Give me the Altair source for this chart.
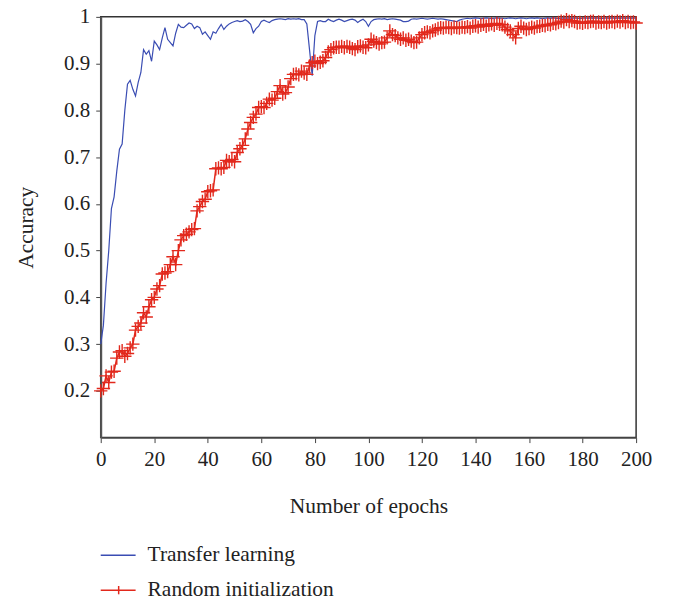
import altair as alt
import pandas as pd

series_names = ["Transfer learning", "Random initialization"]
series_colors = ["#3a4db3", "#e2281c"]

epochs = list(range(201))

transfer = [
    0.300, 0.340, 0.430, 0.500, 0.590, 0.615, 0.670, 0.717, 0.728, 0.800,
    0.856, 0.864, 0.845, 0.831, 0.860, 0.881, 0.930, 0.920, 0.928, 0.905,
    0.948, 0.940, 0.930, 0.955, 0.977, 0.952, 0.945, 0.938, 0.965, 0.984,
    0.978, 0.977, 0.982, 0.987, 0.985, 0.975, 0.980, 0.977, 0.963, 0.968,
    0.960, 0.952, 0.968, 0.965, 0.975, 0.984, 0.973, 0.980, 0.985, 0.988,
    0.990, 0.992, 0.990, 0.991, 0.994, 0.990, 0.984, 0.966, 0.975, 0.980,
    0.990, 0.993, 0.990, 0.988, 0.992, 0.994, 0.995, 0.996, 0.995, 0.994,
    0.996, 0.995, 0.996, 0.995, 0.996, 0.994, 0.994, 0.985, 0.930, 0.874,
    0.960, 0.990, 0.992, 0.990, 0.990, 0.995, 0.992, 0.990, 0.993, 0.995,
    0.993, 0.990, 0.992, 0.994, 0.995, 0.993, 0.988, 0.992, 0.995, 0.990,
    0.980, 0.990, 0.994, 0.995, 0.996, 0.995, 0.996, 0.994, 0.995, 0.996,
    0.995, 0.994, 0.993, 0.990, 0.990, 0.991, 0.995, 0.996, 0.995, 0.996,
    0.997, 0.996, 0.995, 0.996, 0.997, 0.996, 0.995, 0.996, 0.995, 0.994,
    0.993, 0.992, 0.991, 0.990, 0.993, 0.995, 0.996, 0.997, 0.996, 0.997,
    0.998, 0.997, 0.996, 0.997, 0.998, 0.997, 0.996, 0.997, 0.998, 0.997,
    0.997, 0.996, 0.997, 0.998, 0.997, 0.996, 0.997, 0.998, 0.997, 0.996,
    0.997, 0.998, 0.997, 0.998, 0.997, 0.996, 0.997, 0.998, 0.997, 0.998,
    0.997, 0.996, 0.997, 0.998, 0.997, 0.998, 0.997, 0.998, 0.997, 0.996,
    0.997, 0.998, 0.997, 0.998, 0.997, 0.998, 0.997, 0.996, 0.997, 0.998,
    0.997, 0.998, 0.997, 0.998, 0.997, 0.998, 0.997, 0.998, 0.997, 0.998,
    0.997,
]

random_init = [
    0.200, 0.205, 0.232, 0.218, 0.240, 0.242, 0.270, 0.283, 0.286, 0.274,
    0.280, 0.292, 0.300, 0.330, 0.338, 0.345, 0.367, 0.358, 0.380, 0.395,
    0.400, 0.418, 0.425, 0.450, 0.452, 0.455, 0.470, 0.487, 0.470, 0.500,
    0.523, 0.532, 0.535, 0.540, 0.545, 0.547, 0.585, 0.594, 0.605, 0.610,
    0.626, 0.628, 0.630, 0.675, 0.677, 0.675, 0.678, 0.693, 0.690, 0.695,
    0.690, 0.710, 0.718, 0.725, 0.739, 0.760, 0.774, 0.785, 0.792, 0.806,
    0.808, 0.806, 0.815, 0.824, 0.822, 0.826, 0.840, 0.853, 0.835, 0.838,
    0.850, 0.868, 0.877, 0.878, 0.876, 0.884, 0.880, 0.877, 0.895, 0.902,
    0.905, 0.900, 0.903, 0.906, 0.913, 0.925, 0.930, 0.934, 0.935, 0.935,
    0.937, 0.934, 0.937, 0.935, 0.932, 0.930, 0.936, 0.938, 0.935, 0.934,
    0.940, 0.952, 0.948, 0.945, 0.942, 0.945, 0.946, 0.955, 0.970, 0.962,
    0.960, 0.955, 0.952, 0.955, 0.950, 0.952, 0.948, 0.945, 0.946, 0.955,
    0.962, 0.966, 0.968, 0.966, 0.970, 0.972, 0.975, 0.977, 0.976, 0.978,
    0.977, 0.975, 0.978, 0.977, 0.976, 0.978, 0.977, 0.979, 0.976, 0.980,
    0.981, 0.978, 0.982, 0.984, 0.980, 0.983, 0.985, 0.982, 0.986, 0.984,
    0.983, 0.978, 0.973, 0.970, 0.962, 0.955, 0.975, 0.980, 0.976, 0.973,
    0.975, 0.978, 0.976, 0.979, 0.980, 0.982, 0.981, 0.984, 0.983, 0.986,
    0.985, 0.988, 0.991, 0.989, 0.994, 0.990, 0.992, 0.990, 0.987, 0.988,
    0.986, 0.989, 0.988, 0.990, 0.991, 0.987, 0.989, 0.988, 0.990, 0.987,
    0.989, 0.990, 0.988, 0.991, 0.989, 0.992, 0.988, 0.990, 0.988, 0.989,
    0.987,
]

x_ticks = list(range(0, 201, 20))
y_ticks = [0.2, 0.3, 0.4, 0.5, 0.6, 0.7, 0.8, 0.9, 1.0]

FONT = "Liberation Serif"

blue_df = pd.DataFrame({"epoch": epochs, "acc": transfer})
red_df = pd.DataFrame({"epoch": epochs, "acc": random_init})

x_enc = alt.X(
    "epoch:Q",
    scale=alt.Scale(domain=[0, 200], nice=False),
    axis=alt.Axis(values=x_ticks, title="Number of epochs", grid=False),
)
y_enc = alt.Y(
    "acc:Q",
    scale=alt.Scale(domain=[0.1, 1.0], nice=False, zero=False),
    axis=alt.Axis(values=y_ticks, format=".1~f", title="Accuracy", grid=False),
)

blue_line = alt.Chart(blue_df).mark_line(
    color=series_colors[0], strokeWidth=1.2
).encode(x=x_enc, y=y_enc)

red_line = alt.Chart(red_df).mark_line(
    color=series_colors[1], strokeWidth=1.5
).encode(x=x_enc, y=y_enc)

red_pts = alt.Chart(red_df).mark_point(
    shape="M-1,0H1M0,-1V1", size=180, filled=False,
    color=series_colors[1], strokeWidth=1.4, opacity=1,
).encode(x=x_enc, y=y_enc)

# legend (below the plot)
leg_y = [540, 575]
legend_layers = []
for i, (name, col) in enumerate(zip(series_names, series_colors)):
    ldf = pd.DataFrame({"s": [name]})
    legend_layers.append(
        alt.Chart(ldf).mark_rule(color=col, strokeWidth=1.5).encode(
            x=alt.value(0), x2=alt.value(35), y=alt.value(leg_y[i])
        )
    )
    legend_layers.append(
        alt.Chart(ldf).mark_text(
            align="left", baseline="middle", font=FONT, fontSize=21.5, color="#222"
        ).encode(x=alt.value(47), y=alt.value(leg_y[i]), text="s:N")
    )
legend_layers.append(
    alt.Chart(pd.DataFrame({"s": [series_names[1]]})).mark_point(
        shape="M0,-1V1", size=70, filled=False, color=series_colors[1],
        strokeWidth=1.5, opacity=1,
    ).encode(x=alt.value(18), y=alt.value(leg_y[1]))
)

chart = alt.layer(blue_line, red_line, red_pts, *legend_layers).properties(
    width=537, height=422,
    autosize=alt.AutoSizeParams(type="none"),
    padding={"left": 93, "top": 8, "right": 35, "bottom": 164},
).configure_view(
    stroke="#333", strokeWidth=1.5
).configure_axis(
    labelFont=FONT, titleFont=FONT, labelFontSize=21, titleFontSize=21.5,
    titleFontWeight="normal", labelColor="#222", titleColor="#222",
    tickColor="#444", tickSize=5, domainColor="#555", labelFlush=False,
).configure_axisY(
    domainWidth=2, labelPadding=6, titlePadding=26,
).configure_axisX(
    domainWidth=1.2, labelPadding=6, titlePadding=26,
)

chart.save("out.html", embed_options={"renderer": "svg", "actions": False})
